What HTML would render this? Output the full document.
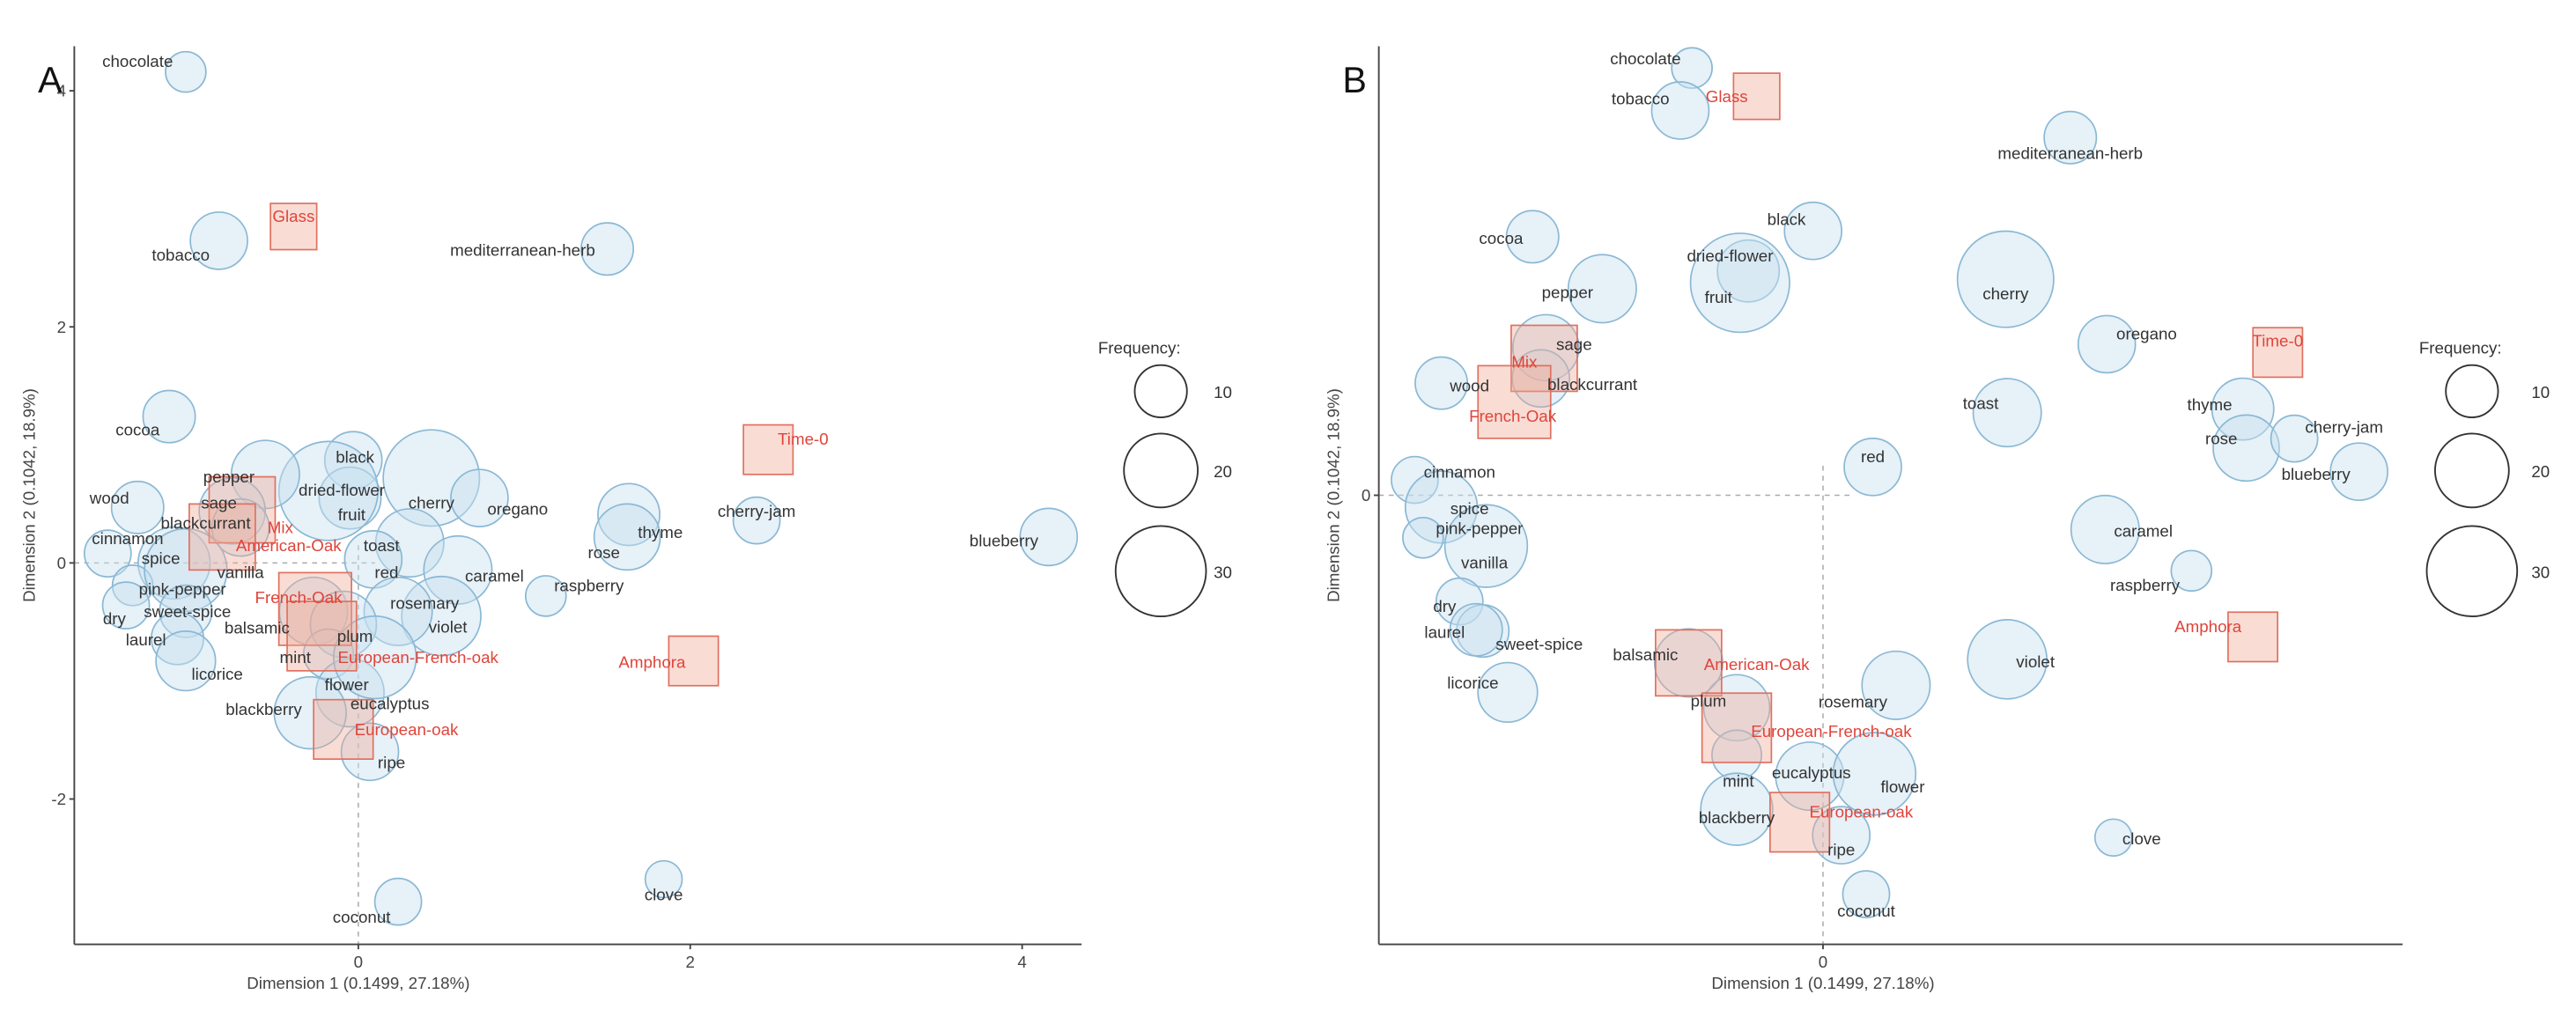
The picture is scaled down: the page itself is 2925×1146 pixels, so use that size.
<!DOCTYPE html>
<html><head><meta charset="utf-8">
<style>
html,body{margin:0;padding:0;background:#fff;}
svg{display:block;}
text{font-family:"Liberation Sans",sans-serif;}
</style></head>
<body>
<svg id="chart" width="2925" height="1146" viewBox="0 0 1560 611.2" preserveAspectRatio="none" xmlns="http://www.w3.org/2000/svg">
</svg>
<script>
const terms = ["chocolate","tobacco","mediterranean-herb","cocoa","black","dried-flower","fruit","pepper","cherry","oregano","sage","blackcurrant","wood","toast","thyme","rose","cherry-jam","blueberry","red","cinnamon","spice","pink-pepper","vanilla","caramel","raspberry","dry","sweet-spice","laurel","balsamic","violet","rosemary","licorice","plum","mint","eucalyptus","flower","blackberry","ripe","clove","coconut"];
const freq = [6,12,10,10,12,14,36,17,34,12,16,12,10,17,14,16,8,12,12,8,19,6,25,17,6,8,10,10,17,23,17,13,16,9,17,25,19,12,5,8];
const aX = [-1.04,-0.84,1.50,-1.14,-0.03,-0.05,-0.18,-0.56,0.44,0.73,-0.76,-0.71,-1.33,0.31,1.63,1.62,2.40,4.16,0.09,-1.51,-1.11,-1.36,-1.04,0.60,1.13,-1.40,-1.04,-1.09,-0.27,0.50,0.24,-1.04,-0.09,-0.18,-0.05,0.10,-0.29,0.07,1.84,0.24];
const aY = [4.16,2.73,2.66,1.24,0.87,0.55,0.61,0.75,0.72,0.55,0.44,0.30,0.47,0.17,0.41,0.22,0.36,0.22,0.03,0.08,0.00,-0.19,-0.06,-0.06,-0.28,-0.36,-0.41,-0.64,-0.41,-0.45,-0.41,-0.83,-0.52,-0.77,-1.10,-0.80,-1.27,-1.60,-2.68,-2.87];
const aLX = [-1.33,-1.07,0.99,-1.33,-0.02,-0.10,-0.04,-0.78,0.44,0.96,-0.84,-0.92,-1.50,0.14,1.82,1.48,2.40,3.89,0.17,-1.39,-1.19,-1.06,-0.71,0.82,1.39,-1.47,-1.03,-1.28,-0.61,0.54,0.40,-0.85,-0.02,-0.38,0.19,-0.07,-0.57,0.20,1.84,0.02];
const aLY = [4.25,2.61,2.65,1.13,0.90,0.62,0.41,0.73,0.51,0.46,0.51,0.34,0.55,0.15,0.26,0.09,0.44,0.19,-0.08,0.21,0.04,-0.22,-0.08,-0.11,-0.19,-0.47,-0.41,-0.65,-0.55,-0.54,-0.34,-0.94,-0.62,-0.80,-1.19,-1.03,-1.24,-1.69,-2.81,-3.00];
const bX = [-0.79,-0.86,1.49,-1.75,-0.06,-0.45,-0.50,-1.33,1.10,1.71,-1.67,-1.70,-2.30,1.11,2.53,2.55,2.84,3.23,0.30,-2.46,-2.30,-2.41,-2.03,1.70,2.22,-2.19,-2.05,-2.09,-0.81,1.11,0.44,-1.90,-0.52,-0.52,-0.08,0.31,-0.52,0.11,1.75,0.26];
const bY = [3.62,3.26,3.03,2.19,2.24,1.90,1.80,1.75,1.83,1.28,1.25,0.99,0.95,0.70,0.73,0.40,0.48,0.20,0.24,0.13,-0.10,-0.36,-0.43,-0.29,-0.64,-0.90,-1.15,-1.14,-1.42,-1.39,-1.61,-1.67,-1.80,-2.20,-2.38,-2.36,-2.66,-2.88,-2.90,-3.38];
const bLX = [-1.07,-1.10,1.49,-1.94,-0.22,-0.56,-0.63,-1.54,1.10,1.95,-1.50,-1.39,-2.13,0.95,2.33,2.40,3.14,2.97,0.30,-2.19,-2.13,-2.07,-2.04,1.93,1.94,-2.28,-1.71,-2.28,-1.07,1.28,0.18,-2.11,-0.69,-0.51,-0.07,0.48,-0.52,0.11,1.92,0.26];
const bLY = [3.70,3.36,2.90,2.18,2.34,2.03,1.68,1.72,1.71,1.37,1.28,0.94,0.93,0.78,0.77,0.48,0.58,0.18,0.33,0.20,-0.11,-0.28,-0.57,-0.30,-0.76,-0.94,-1.26,-1.16,-1.35,-1.41,-1.75,-1.59,-1.74,-2.42,-2.35,-2.47,-2.73,-3.00,-2.91,-3.52];

const groups = ["Glass","Time-0","Mix","American-Oak","French-Oak","European-French-oak","European-oak","Amphora"];
const gSize = [28,30,40,40,44,42,36,30];
const gAX = [-0.39,2.47,-0.70,-0.82,-0.26,-0.22,-0.09,2.02];
const gAY = [2.85,0.96,0.45,0.22,-0.39,-0.62,-1.41,-0.83];
const gALX = [-0.39,2.68,-0.47,-0.42,-0.36,0.36,0.29,1.77];
const gALY = [2.94,1.05,0.30,0.15,-0.29,-0.80,-1.41,-0.84];
const gBX = [-0.40,2.74,-1.68,-0.81,-1.86,-0.52,-0.14,2.59];
const gBY = [3.38,1.21,1.16,-1.42,0.79,-1.97,-2.77,-1.20];
const gBLX = [-0.58,2.74,-1.80,-0.40,-1.87,0.05,0.23,2.32];
const gBLY = [3.38,1.31,1.13,-1.43,0.67,-2.00,-2.68,-1.11];

const xTicksA = [0,2,4];
const yTicksA = [4,2,0,-2];
const legendVals = [10,20,30];

const NS = "http://www.w3.org/2000/svg";
const svg = document.getElementById("chart");
function mk(tag, attrs, parent){
  const e = document.createElementNS(NS, tag);
  for (const k in attrs) e.setAttribute(k, attrs[k]);
  (parent||svg).appendChild(e);
  return e;
}
const rScale = f => 5*Math.sqrt(f);

function panel(id, x0, y0, left, right, top, bottom, X, Y, LX, LY, GX, GY, GLX, GLY, xt, yt, letter, hEnd, vStart){
  const sx = v => x0 + v*100.5;
  const sy = v => y0 - v*71.5;
  const g = mk("g", {});
  
  
  // dashed reference lines
  const hl = mk("line", {x1:left, y1:y0, x2:sx(hEnd), y2:y0, stroke:"#aaa", "stroke-width":0.8, "stroke-dasharray":"3,3"}, g);
  
  
  const vl = mk("line", {x1:x0, y1:sy(vStart), x2:x0, y2:bottom, stroke:"#aaa", "stroke-width":0.8, "stroke-dasharray":"3,3"}, g);
  
  
  // circles
  for (let i=0;i<terms.length;i++){
    const c = mk("circle", {cx:sx(X[i]), cy:sy(Y[i]), r:rScale(freq[i]), fill:"rgba(200,225,240,0.45)", stroke:"#8ab8d4", "stroke-width":0.9}, g);
    
    
  }
  // squares
  for (let i=0;i<groups.length;i++){
    const s = gSize[i];
    const r = mk("rect", {x:sx(GX[i])-s/2, y:sy(GY[i])-s/2, width:s, height:s, fill:"rgba(240,170,150,0.4)", stroke:"#e0705f", "stroke-width":0.9}, g);
    
    
  }
  // labels
  for (let i=0;i<terms.length;i++){
    const t = mk("text", {x:sx(LX[i]), y:sy(LY[i])+3.5, "font-size":10, fill:"#333", "text-anchor":"middle"}, g);
    t.textContent = terms[i];
    
    
  }
  for (let i=0;i<groups.length;i++){
    const t = mk("text", {x:sx(GLX[i]), y:sy(GLY[i])+3.5, "font-size":10, fill:"#e0443a", "text-anchor":"middle"}, g);
    t.textContent = groups[i];
    
    
  }
  // axes
  const ax = mk("line", {x1:left, y1:top, x2:left, y2:bottom, stroke:"#444", "stroke-width":1}, g);
  
  
  const ax2 = mk("line", {x1:left, y1:bottom, x2:right, y2:bottom, stroke:"#444", "stroke-width":1}, g);
  
  
  for (const v of xt){
    mk("line", {x1:sx(v), y1:bottom, x2:sx(v), y2:bottom+3, stroke:"#444"}, g);
    const t = mk("text", {x:sx(v), y:bottom+14, "font-size":10, fill:"#444", "text-anchor":"middle"}, g);
    t.textContent = v;
    
    
  }
  for (const v of yt){
    mk("line", {x1:left-3, y1:sy(v), x2:left, y2:sy(v), stroke:"#444"}, g);
    const t = mk("text", {x:left-5, y:sy(v)+3.5, "font-size":10, fill:"#444", "text-anchor":"end"}, g);
    t.textContent = v;
    
    
  }
  const xtit = mk("text", {x:x0, y:bottom+27, "font-size":10, fill:"#444", "text-anchor":"middle"}, g);
  xtit.textContent = "Dimension 1  (0.1499,  27.18%)";
  
  
  const ytx = left-24, yty = 300;
  const ytit = mk("text", {x:ytx, y:yty, "font-size":10, fill:"#444", "text-anchor":"middle", transform:`rotate(-90 ${ytx} ${yty})`}, g);
  ytit.textContent = "Dimension 2  (0.1042,  18.9%)";
  
  
  const lt = mk("text", {x:left-22, y:56, "font-size":22, fill:"#111"}, g);
  lt.textContent = letter;
  
  
}

function legend(cx, titleX, labelX){
  const g = mk("g", {});
  
  
  const t = mk("text", {x:titleX, y:214, "font-size":10, fill:"#333", "text-anchor":"middle"}, g);
  t.textContent = "Frequency:";
  
  
  const ys = [237, 285, 346];
  for (let i=0;i<legendVals.length;i++){
    const c = mk("circle", {cx:cx, cy:ys[i], r:rScale(legendVals[i]), fill:"none", stroke:"#333", "stroke-width":1}, g);
    
    
    const l = mk("text", {x:labelX, y:ys[i]+4, "font-size":10, fill:"#333"}, g);
    l.textContent = legendVals[i];
    
    
  }
}

panel("A", 217, 341, 45, 655, 28, 572, aX, aY, aLX, aLY, gAX, gAY, gALX, gALY, xTicksA, yTicksA, "A", 0.1, 0.15);
panel("B", 1104, 300, 835, 1455, 28, 572, bX, bY, bLX, bLY, gBX, gBY, gBLX, gBLY, [0], [0], "B", 0.18, 0.25);
legend(703, 690, 735);
legend(1497, 1490, 1533);
</script>
</body></html>
